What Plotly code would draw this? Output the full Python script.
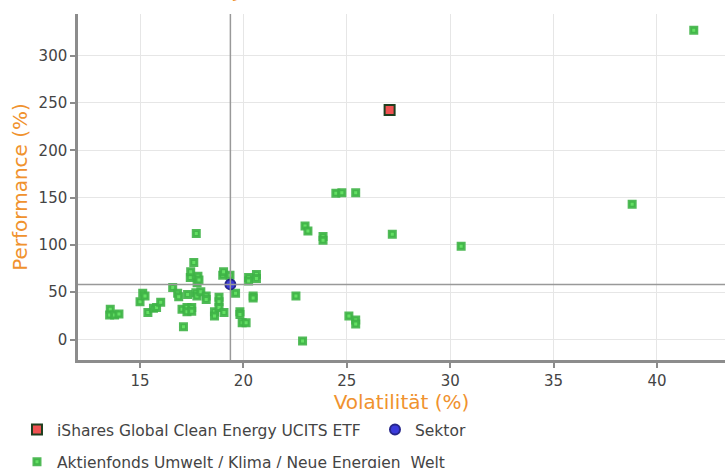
import plotly.graph_objects as go

# Fonds der Vergleichsgruppe: Volatilität (%) / Performance (%)
fonds_vol = [
    13.56, 13.53, 13.77, 13.98, 15.0, 15.13, 15.24, 15.38, 15.65, 15.8,
    16.0, 16.58, 16.82, 16.87, 17.03, 17.1, 17.27, 17.5, 17.27, 17.5,
    17.3, 17.43, 17.45, 17.6, 17.72, 17.7, 17.75, 17.76, 17.8, 17.85,
    17.94, 18.2, 18.2, 18.6, 18.6, 18.82, 18.82, 18.82, 19.0, 19.04,
    19.06, 19.35, 19.62, 19.83, 19.83, 19.94, 20.13, 20.25, 20.25, 20.47,
    20.47, 20.63, 20.63, 22.54, 22.86, 22.98, 23.12, 23.85, 23.85, 24.47,
    24.76, 25.43, 25.1, 25.43, 25.43, 27.2, 30.53, 38.8, 41.78,
]
fonds_perf = [
    31.9, 25.9, 25.9, 26.9, 40, 48.8, 46, 28.7, 33, 34,
    39.3, 55, 48.8, 45.2, 31.9, 13.5, 34, 34, 29.4, 30,
    47.7, 65.7, 71.6, 81.5, 112, 49.4, 46, 60, 67, 62.8,
    50.5, 46, 42.4, 29.4, 24.8, 44.6, 40, 34, 68, 71.6,
    28.7, 68, 48.8, 29.4, 26.6, 17.7, 17.7, 65.7, 62, 46,
    44, 68.8, 64.6, 46, -1.6, 120, 114.6, 109, 105, 154.7,
    155, 155, 24.8, 20.6, 16.4, 111.4, 98.7, 143, 326.8,
]

etf_name = "iShares Global Clean Energy UCITS ETF"
etf_vol = [27.07]
etf_perf = [242.5]

sektor_vol = [19.37]
sektor_perf = [58.3]

gruppe_name = "Aktienfonds Umwelt / Klima / Neue Energien\u00a0 Welt"

ORANGE = "#f0922e"
FONT = "DejaVu Sans"

fig = go.Figure()

fig.add_trace(go.Scatter(
    x=fonds_vol, y=fonds_perf, mode="markers", name=gruppe_name,
    legend="legend2",
    marker=dict(symbol="square", size=6, color="#64e064",
                line=dict(width=3, color="rgba(62,178,70,0.9)")),
))
fig.add_trace(go.Scatter(
    x=etf_vol, y=etf_perf, mode="markers", name=etf_name,
    marker=dict(symbol="square", size=10, color="#f05252",
                line=dict(width=2, color="#1f3f1f")),
))
fig.add_trace(go.Scatter(
    x=sektor_vol, y=sektor_perf, mode="markers", name="Sektor",
    marker=dict(symbol="circle", size=10, color="#2626d9", opacity=0.9,
                line=dict(width=2, color="#10107f")),
))

# Sektor-Fadenkreuz
fig.add_vline(x=sektor_vol[0], line=dict(color="#999999", width=1.5))
fig.add_hline(y=sektor_perf[0], line=dict(color="#999999", width=1.5))

# Titel (oben abgeschnitten)
fig.add_annotation(
    text="Performance (5 Jahre (%))", xref="paper", yref="paper",
    x=0.399, y=1.0278, xanchor="right", yanchor="bottom", showarrow=False,
    font=dict(family=FONT, size=20, color=ORANGE),
)

axis_common = dict(
    showgrid=True, gridcolor="#e6e6e6", gridwidth=1, zeroline=False,
    showline=True, linecolor="#8c8c8c", linewidth=2.5,
    ticks="outside", ticklen=5, tickwidth=2, tickcolor="#8c8c8c",
    tickfont=dict(family=FONT, size=15, color="#444444"),
)

fig.update_layout(
    width=725, height=468,
    margin=dict(l=78, r=0, t=14, b=108, autoexpand=False),
    paper_bgcolor="white", plot_bgcolor="white",
    font=dict(family=FONT, color="#444444"),
    xaxis=dict(range=[12.0, 43.29], tickvals=[15, 20, 25, 30, 35, 40],
               title=dict(text="Volatilität (%)", standoff=5,
                          font=dict(family=FONT, size=20, color=ORANGE)),
               **axis_common),
    yaxis=dict(range=[-21.6, 344], tickvals=[0, 50, 100, 150, 200, 250, 300],
               title=dict(text="Performance (%)", standoff=6,
                          font=dict(family=FONT, size=20, color=ORANGE)),
               **axis_common),
    legend=dict(orientation="h", x=-0.0943, xanchor="left",
                y=-0.202, yanchor="middle", entrywidth=313,
                font=dict(family=FONT, size=15.5, color="#444444")),
    legend2=dict(orientation="h", x=-0.0943, xanchor="left",
                 y=-0.295, yanchor="middle",
                 font=dict(family=FONT, size=15.5, color="#444444")),
    showlegend=True,
)

# Seite ohne Rand, damit die Grafik das ganze Fenster füllt
fig.write_html(
    "out.html",
    config={"displayModeBar": False},
    post_script="document.body.style.margin='0';"
                "document.body.style.overflow='hidden';",
)
